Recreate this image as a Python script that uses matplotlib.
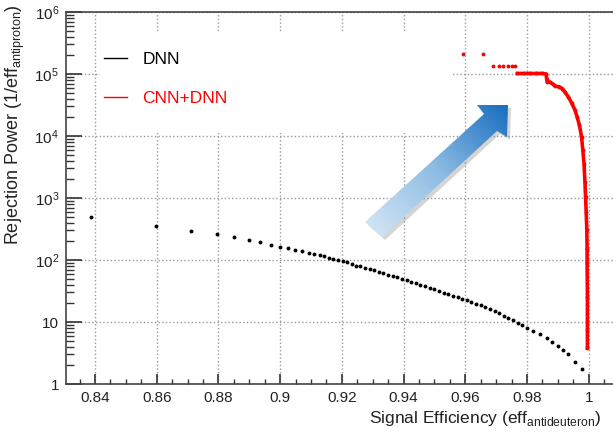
import numpy as np
import matplotlib
matplotlib.use('Agg')
from matplotlib import pyplot as plt
from matplotlib.lines import Line2D
from matplotlib.patches import Polygon, Rectangle
from matplotlib.colors import LinearSegmentedColormap
from matplotlib.ticker import FixedLocator, MultipleLocator, FuncFormatter, LogLocator, NullFormatter

plt.rcParams['font.family'] = ['Liberation Sans', 'DejaVu Sans']

# DNN: signal efficiency vs rejection power
dnn_eff = [0.8387, 0.8598, 0.8711, 0.8795, 0.8851, 0.8898, 0.8935, 0.8970, 0.9000,
           0.9026, 0.9048, 0.9070, 0.9093, 0.9110, 0.9128, 0.9143, 0.9159, 0.9173,
           0.9187, 0.9203, 0.9216, 0.9232, 0.9246, 0.9260, 0.9275, 0.9290, 0.9305,
           0.9320, 0.9335, 0.9350, 0.9365, 0.9380, 0.9395, 0.9410, 0.9425, 0.9440,
           0.9455, 0.9470, 0.9485, 0.9500, 0.9515, 0.9530, 0.9545, 0.9560, 0.9575,
           0.9590, 0.9605, 0.9620, 0.9635, 0.9650, 0.9665, 0.9680, 0.9695, 0.9710,
           0.9725, 0.9740, 0.9755, 0.9770, 0.9785, 0.9800, 0.9821, 0.9843, 0.9864,
           0.9881, 0.9900, 0.9917, 0.9934, 0.9956, 0.9980]
dnn_rej = [499, 357, 297, 260, 232, 208, 193, 173, 160,
           155, 143, 140, 130, 125, 119, 115, 108, 102,
           100, 96, 92, 86, 81, 79.4, 75.4, 71.6, 68.0,
           64.5, 61.2, 58.2, 55.2, 52.5, 49.8, 47.1, 44.5, 42.0,
           39.7, 37.5, 35.5, 33.5, 31.6, 29.9, 28.3, 26.7, 25.2,
           23.8, 22.5, 21.2, 19.8, 18.5, 17.3, 16.1, 14.9, 13.8,
           12.7, 11.7, 10.7, 9.8, 8.9, 8.1, 7.2, 6.3, 5.5,
           4.8, 4.15, 3.55, 3.0, 2.3, 1.73]

# CNN+DNN
cnn_eff = [0.9594, 0.9657, 0.9689, 0.9708, 0.9724, 0.9740, 0.9751, 0.9761,
           0.9769, 0.9790, 0.9810, 0.9830, 0.9850, 0.9862, 0.9864, 0.9866,
           0.9875, 0.9885, 0.9891, 0.9905, 0.9915, 0.9923, 0.9934, 0.9945,
           0.9956, 0.9963, 0.9970, 0.9977, 0.9981, 0.9985, 0.9988, 0.9990,
           0.9992, 0.9994, 0.9995, 0.9995, 0.9996, 0.9996, 0.9996]
cnn_rej = [2.1e5, 2.1e5, 1.35e5, 1.35e5, 1.35e5, 1.35e5, 1.35e5, 1.35e5,
           1.02e5, 1.02e5, 1.02e5, 1.02e5, 1.02e5, 1.0e5, 8.2e4, 7.4e4,
           7.4e4, 6.8e4, 6.4e4, 6.2e4, 5.8e4, 5.1e4, 4.3e4, 3.4e4,
           2.6e4, 2.0e4, 1.5e4, 9.7e3, 6.0e3, 3.6e3, 1.8e3, 1.05e3,
           600, 305, 150, 88, 25, 7.4, 3.8]

x_major = [0.84, 0.86, 0.88, 0.90, 0.92, 0.94, 0.96, 0.98, 1.00]

W, H = 613, 434
fig = plt.figure(figsize=(W / 100, H / 100), dpi=100)
ax = fig.add_axes([66 / W, 50 / H, 553.5 / W, 372 / H])

ax.set_yscale('log')
ax.set_xlim(0.8306, 1.01)
ax.set_ylim(1, 1e6)

ax.xaxis.set_major_locator(FixedLocator(x_major))
ax.xaxis.set_minor_locator(MultipleLocator(0.005))
ax.xaxis.set_major_formatter(FuncFormatter(lambda v, p: '%g' % round(v, 2)))
ax.yaxis.set_major_locator(LogLocator(base=10, numticks=10))
ax.yaxis.set_minor_locator(LogLocator(base=10, subs=np.arange(2, 10), numticks=20))
ax.yaxis.set_minor_formatter(NullFormatter())


def ylab(v, p):
    n = int(round(np.log10(v)))
    if n == 0:
        return '1'
    if n == 1:
        return '10'
    return r'$\mathregular{10^{%d}}$' % n


ax.yaxis.set_major_formatter(FuncFormatter(ylab))
ax.tick_params(axis='both', which='both', direction='in', colors='#333333',
               labelcolor='#222222', labelsize=11, top=False, right=False)
ax.tick_params(axis='y', which='major', length=11.5, width=1.2, pad=5)
ax.tick_params(axis='y', which='minor', length=5.8, width=1)
ax.tick_params(axis='x', which='major', length=7, width=1.2, pad=5)
ax.tick_params(axis='x', which='minor', length=3.6, width=1)

for s in ax.spines.values():
    s.set_color('#444444')
    s.set_linewidth(1.2)

ax.set_axisbelow(True)
ax.grid(which='major', color='#999999', linestyle=':', linewidth=1)

# white area behind the legend
ax.add_patch(Rectangle((100 / W, 1 - 133 / H), 352 / W, 100 / H, transform=fig.transFigure,
                       facecolor='white', edgecolor='none', zorder=1))

ax.plot(dnn_eff, dnn_rej, 'o', color='black', ms=2.8, mew=0, zorder=3)
ax.plot(cnn_eff, cnn_rej, 'o', color='red', ms=2.8, mew=0, zorder=3)
ax.plot(cnn_eff[8:], cnn_rej[8:], '-', color='red', lw=2.6, zorder=3)

handles = [Line2D([], [], color='black', lw=1), Line2D([], [], color='red', lw=1)]
ax.legend(handles, ['DNN', 'CNN+DNN'], loc='upper left',
          bbox_to_anchor=(104 / W, 1 - 52 / H), bbox_transform=fig.transFigure,
          frameon=False, borderpad=0, borderaxespad=0, handlelength=1.3,
          handletextpad=0.9, labelspacing=1.35, fontsize=12.5, labelcolor='linecolor')

fig.text(15 / W, 1 - 4 / H, r'Rejection Power (1/eff$_{\mathregular{antiproton}}$)',
         rotation=90, ha='center', va='top', fontsize=13, color='#222222')
fig.text(601 / W, 1 - 418 / H, r'Signal Efficiency (eff$_{\mathregular{antideuteron}}$)',
         ha='right', va='center', fontsize=12.5, color='#222222')

# blue gradient arrow overlay (pixel coordinates)
ov = fig.add_axes([0, 0, 1, 1], zorder=5)
ov.patch.set_alpha(0)
ov.axis('off')
arrow_px = [(365, 222), (484, 114), (477, 105), (508, 105), (507, 137), (497, 131), (382, 237)]
ov.add_patch(Polygon([(x + 3, y + 3) for x, y in arrow_px], closed=True,
                     facecolor='#777777', edgecolor='none', alpha=0.3, zorder=1))
body = Polygon(arrow_px, closed=True, facecolor='none', edgecolor='none', zorder=1)
ov.add_patch(body)
gx, gy = np.meshgrid(np.linspace(360, 512, 200), np.linspace(100, 240, 200))
t = np.clip(((gx - gy) - 130) / 270, 0, 1)
cmap = LinearSegmentedColormap.from_list('arr', ['#d6e7f6', '#8fbde4', '#1a6fc0'])
im = ov.imshow(t, extent=(360, 512, 240, 100), cmap=cmap, aspect='auto',
               interpolation='bilinear', zorder=2)
im.set_clip_path(body)
ov.set_xlim(0, W)
ov.set_ylim(H, 0)

plt.savefig('out.png', dpi=100)
